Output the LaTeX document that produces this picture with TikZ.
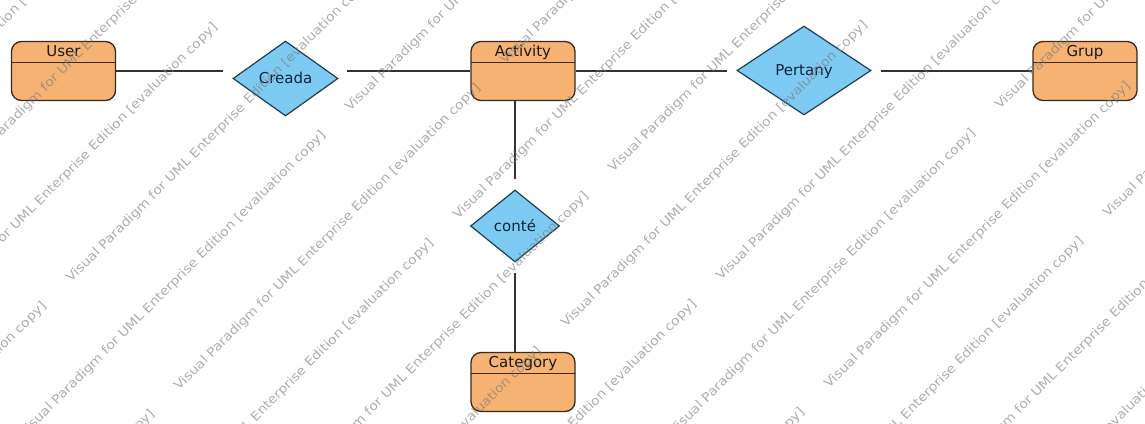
\documentclass[tikz,border=0pt]{standalone}
\usepackage{fontspec}
\setmainfont{DejaVu Sans}
\usepackage{graphicx}
\usetikzlibrary{shapes.geometric}
\definecolor{entfill}{RGB}{245,178,115}
\definecolor{entdraw}{RGB}{59,40,24}
\definecolor{relfill}{RGB}{125,203,242}
\definecolor{reldraw}{RGB}{30,62,85}
\definecolor{reltext}{RGB}{15,35,60}
\definecolor{linecol}{RGB}{50,50,50}
\definecolor{wmcol}{RGB}{120,120,120}
\begin{document}
\begin{tikzpicture}[x=1pt,y=-1pt,
  entity/.style={draw=entdraw,fill=entfill,line width=1.3pt,rounded corners=10pt,
    minimum width=104pt,minimum height=59pt,inner sep=0pt,
    path picture={\draw[entdraw,line width=1.1pt]
      ([yshift=-21pt]path picture bounding box.north west) --
      ([yshift=-21pt]path picture bounding box.north east);}},
  etitle/.style={font=\fontsize{15}{18}\selectfont,text=black!90,inner sep=0pt,
    text height=10.9pt,text depth=0pt},
  relation/.style={diamond,draw=reldraw,fill=relfill,line width=1.2pt,inner sep=0pt,
    font=\fontsize{15}{18}\selectfont,text=reltext,text height=10.9pt,text depth=0pt},
  conn/.style={draw=linecol,line width=1.2pt},
  wm/.style={rotate=45,anchor=west,inner sep=0pt,text=wmcol,text opacity=0.6,
    font=\fontsize{12.5}{14}\selectfont}
]
\path[use as bounding box] (0,0) rectangle (1145,423);
\fill[white] (0,0) rectangle (1145,423);

% entities
\node[entity] (user) at (63.5,71) {};
\node[etitle] (usertitle) at ([yshift=-10.5pt]user.north) {User};
\node[entity] (activity) at (523,71) {};
\node[etitle] (activitytitle) at ([yshift=-10.5pt]activity.north) {Activity};
\node[entity] (grup) at (1085,71) {};
\node[etitle] (gruptitle) at ([yshift=-10.5pt]grup.north) {Grup};
\node[entity] (category) at (523,382) {};
\node[etitle] (categorytitle) at ([yshift=-10.5pt]category.north) {Category};

% relations
\node[relation,minimum width=105pt,minimum height=75pt] (creada) at (285.5,78.5) {Creada};
\node[relation,minimum width=134pt,minimum height=89pt] (pertany) at (804,70.5) {Pertany};
\node[relation,minimum width=89pt,minimum height=72pt] (conte) at (515,226) {conté};

% connector ends
\coordinate (creadaL) at (223,71);
\coordinate (creadaR) at (347,71);
\coordinate (pertanyL) at (727,71);
\coordinate (pertanyR) at (881,71);
\coordinate (conteT) at (515,179);
\coordinate (conteB) at (515,273);

\draw[conn] (user.east) -- (creadaL);
\draw[conn] (creadaR) -- (activity.west);
\draw[conn] (activity.east) -- (pertanyL);
\draw[conn] (pertanyR) -- (grup.west);
\draw[conn] (conteT |- activity.south) -- (conteT);
\draw[conn] (conteB) -- (conteB |- category.north);

% watermark
\begin{scope}
\clip (0,0) rectangle (1145,423);
\foreach \n in {0,...,16}{
  \pgfmathsetmacro\cc{-83+108*\n}
  \pgfmathsetmacro\ph{ifthenelse(isodd(\n),238,440)}
  \foreach \k in {0,...,5}{
    \pgfmathsetmacro\dd{\ph+652*(\k-3)}
    \node[wm] (wm\n x\k) at ({(\cc+\dd)/2},{(\cc-\dd)/2})
      {\scalebox{1.12}[1]{Visual Paradigm for UML Enterprise Edition [evaluation copy]}};
  }
}
\end{scope}
\end{tikzpicture}
\end{document}
